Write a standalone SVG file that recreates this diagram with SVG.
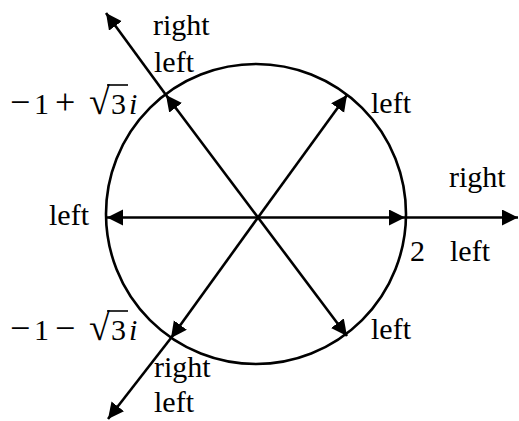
<svg xmlns="http://www.w3.org/2000/svg" width="519" height="421" viewBox="0 0 519 421">
<style>
.t{font-family:"Liberation Serif","Times New Roman",serif;font-size:30px;fill:#000}
.op{font-size:36px}
.rad{font-size:38px}
.ln{stroke:#000;stroke-width:2.6;fill:none}
</style>
<defs>
<marker id="ah" markerUnits="userSpaceOnUse" markerWidth="18" markerHeight="18" refX="16" refY="8" orient="auto">
<path d="M0,0 L16,8 L0,16 Z" fill="#000"/>
</marker>
</defs>
<g id="circle"><circle cx="256" cy="214" r="150" class="ln"/></g>
<g id="connectors">
<line class="ln" x1="258" y1="217.5" x2="405" y2="217.5" marker-end="url(#ah)"/>
<line class="ln" x1="405" y1="217.5" x2="518" y2="217.5" marker-end="url(#ah)"/>
<line class="ln" x1="258" y1="217.5" x2="107" y2="217.5" marker-end="url(#ah)"/>
<line class="ln" x1="258" y1="217.5" x2="166" y2="95" marker-end="url(#ah)"/>
<line class="ln" x1="166" y1="95" x2="106" y2="13" marker-end="url(#ah)"/>
<line class="ln" x1="258" y1="217.5" x2="347" y2="95" marker-end="url(#ah)"/>
<line class="ln" x1="258" y1="217.5" x2="347" y2="336" marker-end="url(#ah)"/>
<line class="ln" x1="258" y1="217.5" x2="171" y2="338" marker-end="url(#ah)"/>
<line class="ln" x1="171" y1="338" x2="108" y2="419" marker-end="url(#ah)"/>
</g>
<g id="labels">
<text class="t" x="153" y="35">right</text>
<text class="t" x="154" y="72">left</text>
<text class="t" x="371" y="113">left</text>
<text class="t" x="449" y="187">right</text>
<text class="t" x="410" y="261">2</text>
<text class="t" x="450" y="261">left</text>
<text class="t" x="371" y="339">left</text>
<text class="t" x="49" y="225">left</text>
<text class="t" x="154" y="377">right</text>
<text class="t" x="154" y="412">left</text>
</g>
<g id="z1">
<text class="t" y="114"><tspan x="10" class="op">−</tspan><tspan x="34">1</tspan><tspan x="55" class="op">+</tspan><tspan x="89" class="rad">√</tspan><tspan x="111">3</tspan><tspan x="129" font-style="italic">i</tspan></text>
<line x1="107" y1="85" x2="128" y2="85" stroke="#000" stroke-width="1.6"/>
</g>
<g id="z2">
<text class="t" y="340"><tspan x="10" class="op">−</tspan><tspan x="34">1</tspan><tspan x="55" class="op">−</tspan><tspan x="89" class="rad">√</tspan><tspan x="111">3</tspan><tspan x="129" font-style="italic">i</tspan></text>
<line x1="107" y1="311" x2="128" y2="311" stroke="#000" stroke-width="1.6"/>
</g>
</svg>
